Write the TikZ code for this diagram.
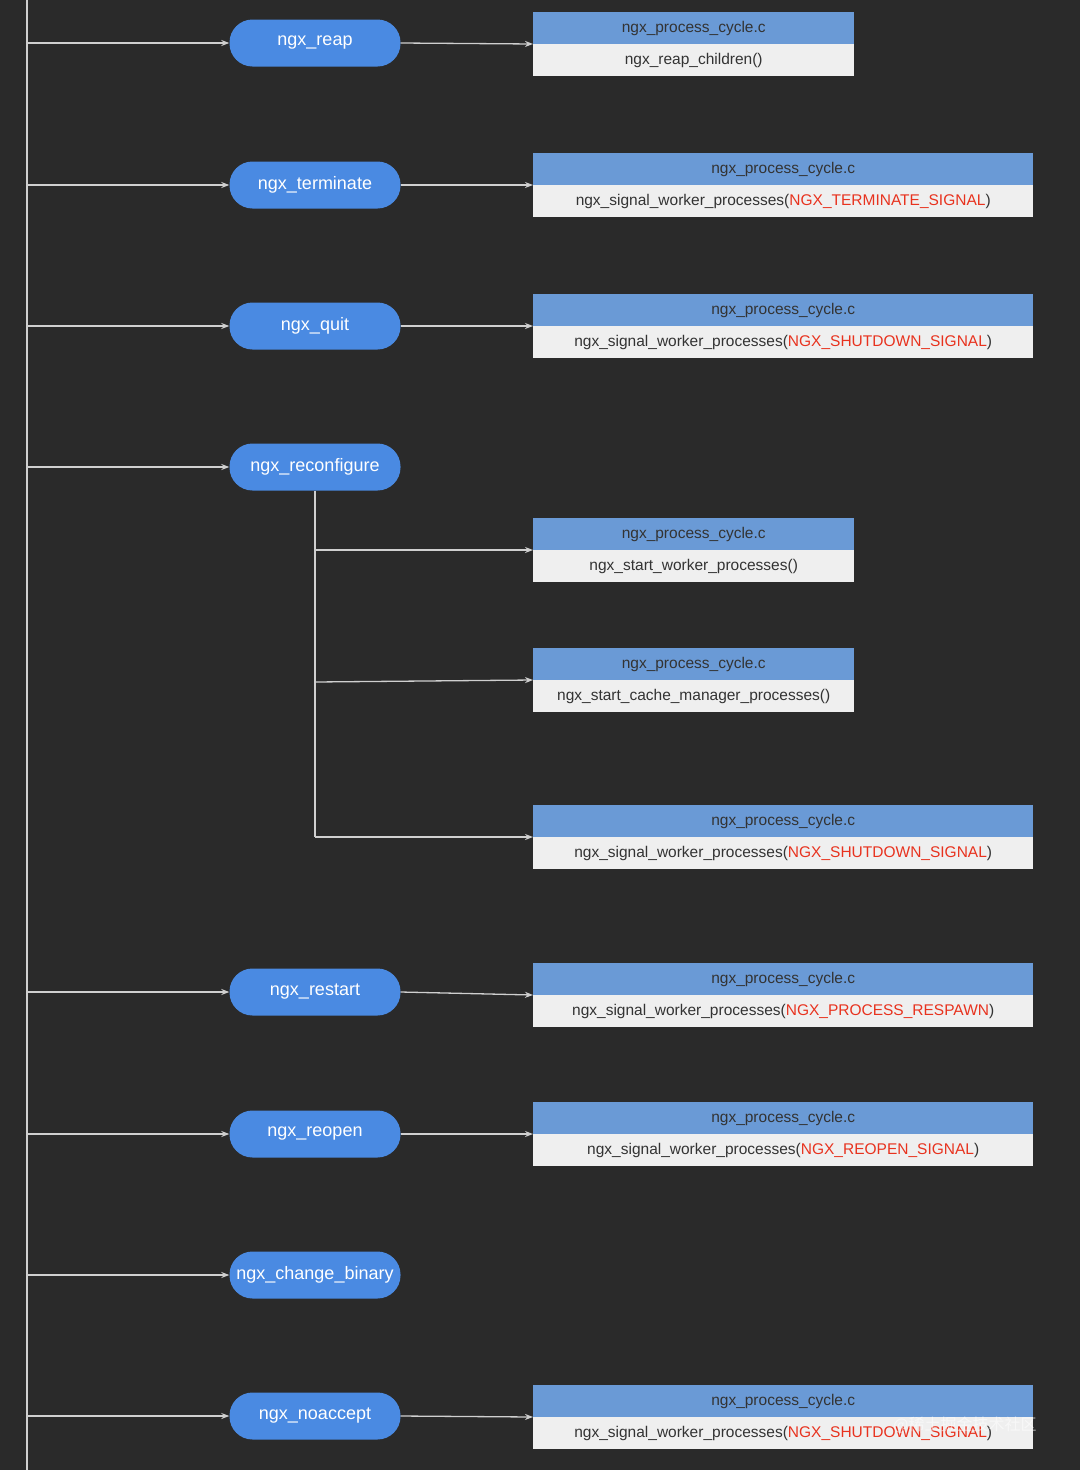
\documentclass[tikz,border=0pt]{standalone}
\usepackage{fontspec}
\setmainfont{Liberation Sans}
\newfontfamily\cjk{Noto Sans CJK SC}
\usetikzlibrary{arrows.meta}
\definecolor{bg}{HTML}{2A2A2A}
\definecolor{pill}{HTML}{4A8AE2}
\definecolor{hdr}{HTML}{6A9AD6}
\definecolor{bdy}{HTML}{EFEFEF}
\definecolor{ln}{HTML}{CFCFCF}
\definecolor{txt}{HTML}{333333}
\definecolor{rd}{HTML}{E8321E}
\begin{document}
\begin{tikzpicture}[x=1pt,y=-1pt,
 pillst/.style={draw=none,fill=pill,rounded corners=23pt,minimum width=171pt,minimum height=47pt,inner sep=0pt,text=white,font=\fontsize{18}{20}\selectfont},
 hd/.style={anchor=north west,fill=hdr,minimum height=32pt,inner sep=0pt,text=txt,font=\fontsize{15.5}{18}\selectfont},
 bd/.style={anchor=north west,fill=bdy,minimum height=32pt,inner sep=0pt,text=txt,font=\fontsize{15.5}{18}\selectfont},
 ar/.style={draw=ln,line width=1.3pt,-{Stealth[length=8pt,width=6pt]}},
 ln/.style={draw=ln,line width=1.3pt}]
\fill[bg] (0,0) rectangle (1080,1470);
\useasboundingbox (0,0) rectangle (1080,1470);
\coordinate (top) at (27,0); \coordinate (bot) at (27,1470);
\draw[draw=ln,line width=2pt] (top) -- (bot);
\foreach \n/\y/\t in {p1/43/ngx\_reap,p2/185/ngx\_terminate,p3/326/ngx\_quit,p4/467/ngx\_reconfigure,p5/992/ngx\_restart,p6/1134/ngx\_reopen,p7/1275/ngx\_change\_binary,p8/1416/ngx\_noaccept}{
 \node[pillst] (\n) at (315,\y) {\t};
 \coordinate (s\n) at (27,\y);
 \draw[ar] (s\n) -- (\n.west);
}
\newcommand\mybox[4]{%
 \node[hd,minimum width=#3pt] (h#1) at (533,#2) {ngx\_process\_cycle.c};
 \node[bd,minimum width=#3pt] (b#1) at (533,#2+32) {#4};
 \coordinate (e#1) at (533,#2+32);
}
\mybox{1}{12}{321}{ngx\_reap\_children()}
\mybox{2}{153}{500}{ngx\_signal\_worker\_processes(\textcolor{rd}{NGX\_TERMINATE\_SIGNAL})}
\mybox{3}{294}{500}{ngx\_signal\_worker\_processes(\textcolor{rd}{NGX\_SHUTDOWN\_SIGNAL})}
\mybox{4}{518}{321}{ngx\_start\_worker\_processes()}
\mybox{5}{648}{321}{ngx\_start\_cache\_manager\_processes()}
\mybox{6}{805}{500}{ngx\_signal\_worker\_processes(\textcolor{rd}{NGX\_SHUTDOWN\_SIGNAL})}
\mybox{7}{963}{500}{ngx\_signal\_worker\_processes(\textcolor{rd}{NGX\_PROCESS\_RESPAWN})}
\mybox{8}{1102}{500}{ngx\_signal\_worker\_processes(\textcolor{rd}{NGX\_REOPEN\_SIGNAL})}
\mybox{9}{1385}{500}{ngx\_signal\_worker\_processes(\textcolor{rd}{NGX\_SHUTDOWN\_SIGNAL})}
\draw[ar] (p1.east) -- (e1);
\draw[ar] (p2.east) -- (e2);
\draw[ar] (p3.east) -- (e3);
\draw[ar] (p5.east) -- (e7);
\draw[ar] (p6.east) -- (e8);
\draw[ar] (p8.east) -- (e9);
\coordinate (br) at (315,837);
\coordinate (j4) at (315,550);
\coordinate (j5) at (315,682);
\draw[ln] (p4.south) -- (br);
\draw[ar] (j4) -- (e4);
\draw[ar] (j5) -- (e5);
\draw[ar] (br) -- (e6);
\node[text=white,opacity=0.55,font=\cjk\fontsize{16}{18}\selectfont] (wm) at (965,1425) {@稀土掘金技术社区};
\end{tikzpicture}
\end{document}
